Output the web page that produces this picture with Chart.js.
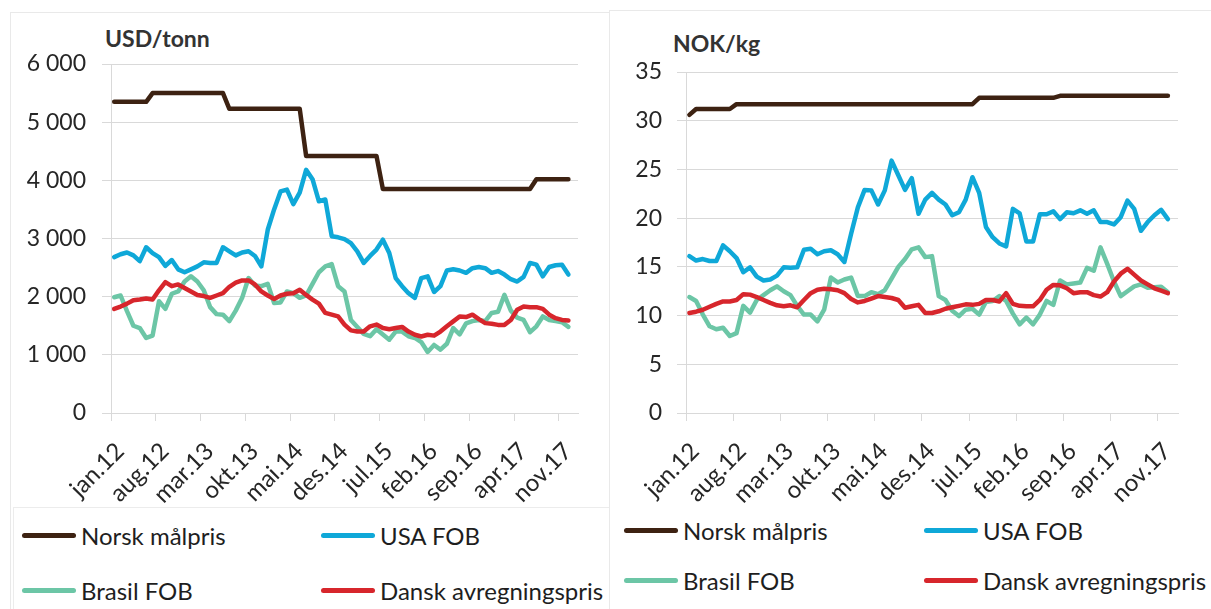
<!DOCTYPE html>
<html>
<head>
<meta charset="utf-8">
<script src="https://cdn.jsdelivr.net/npm/chart.js@4.4.1/dist/chart.umd.min.js"></script>
<style>
    body { margin: 0; background: #fff; font-family: Lato, "Open Sans", sans-serif; color: #1e1e1e; }
    #ramme { position: relative; width: 1211px; height: 609px; overflow: hidden; background: #fff; }
    .panel { position: absolute; border: 1px solid #e9e9e9; box-sizing: border-box; }
    .legendboks { position: absolute; border-top: 1px solid #ececec; border-left: 1px solid #ececec; box-sizing: border-box; }
    .enhet { position: absolute; font-weight: bold; font-size: 23px; line-height: 1; color: #333; }
    canvas { position: absolute; }
    .post { position: absolute; height: 30px; display: flex; align-items: center; font-size: 24px; white-space: nowrap; color: #1e1e1e; }
    .post .strek { display: inline-block; width: 54px; height: 5px; border-radius: 3px; margin-right: 5px; }
</style>
</head>
<body>
<div id="ramme">
    <div class="panel" style="left:10px; top:12px; width:600px; height:610px;"></div>
    <div class="panel" style="left:609px; top:10px; width:610px; height:612px;"></div>
    <div class="legendboks" style="left:13px; top:507px; width:596px; height:110px;"></div>
    <div class="enhet" style="left:105px; top:27px;">USD/tonn</div>
    <div class="enhet" style="left:673px; top:32px;">NOK/kg</div>
    <canvas id="grafusd" width="600" height="476" style="left:0px; top:34px;"></canvas>
    <canvas id="grafnok" width="600" height="470" style="left:600px; top:40px;"></canvas>
    <div id="legendusd"></div>
    <div id="legendnok"></div>
</div>
<script>
const maaneder = [
    "jan.12","feb.12","mar.12","apr.12","mai.12","jun.12","jul.12","aug.12","sep.12","okt.12","nov.12","des.12",
    "jan.13","feb.13","mar.13","apr.13","mai.13","jun.13","jul.13","aug.13","sep.13","okt.13","nov.13","des.13",
    "jan.14","feb.14","mar.14","apr.14","mai.14","jun.14","jul.14","aug.14","sep.14","okt.14","nov.14","des.14",
    "jan.15","feb.15","mar.15","apr.15","mai.15","jun.15","jul.15","aug.15","sep.15","okt.15","nov.15","des.15",
    "jan.16","feb.16","mar.16","apr.16","mai.16","jun.16","jul.16","aug.16","sep.16","okt.16","nov.16","des.16",
    "jan.17","feb.17","mar.17","apr.17","mai.17","jun.17","jul.17","aug.17","sep.17","okt.17","nov.17","des.17"
];
const tickEtiketter = ["jan.12","aug.12","mar.13","okt.13","mai.14","des.14","jul.15","feb.16","sep.16","apr.17","nov.17"];

const navn = ["Norsk målpris", "USA FOB", "Brasil FOB", "Dansk avregningspris"];
const farger = ["#3d2212", "#0fa8d8", "#6cc6a6", "#d7262c"];

// USD/tonn
const norskUsd = [
    5350,5350,5350,5350,5350,5350,5500,5500,5500,5500,5500,5500,
    5500,5500,5500,5500,5500,5500,5230,5230,5230,5230,5230,5230,
    5230,5230,5230,5230,5230,5230,4420,4420,4420,4420,4420,4420,
    4420,4420,4420,4420,4420,4420,3850,3850,3850,3850,3850,3850,
    3850,3850,3850,3850,3850,3850,3850,3850,3850,3850,3850,3850,
    3850,3850,3850,3850,3850,3850,4020,4020,4020,4020,4020,4020
];
const usaUsd = [
    2680,2730,2760,2710,2610,2850,2750,2680,2530,2630,
    2470,2420,2470,2520,2590,2580,2580,2850,2780,2710,
    2760,2780,2700,2520,3150,3500,3810,3840,3590,3790,
    4180,4020,3640,3670,3040,3020,2990,2920,2780,2580,
    2700,2810,2980,2750,2320,2180,2060,1980,2320,2350,
    2080,2180,2450,2470,2450,2410,2490,2510,2490,2410,
    2440,2380,2300,2260,2340,2580,2550,2350,2510,2540,
    2550,2380
];
const brasilUsd = [
    1990,2020,1750,1500,1460,1290,1330,1920,1790,2050,
    2090,2260,2350,2260,2110,1820,1700,1690,1580,1760,
    1980,2320,2190,2180,2220,1890,1900,2090,2060,1980,
    2020,2220,2420,2520,2560,2180,2090,1600,1480,1360,
    1320,1440,1350,1260,1400,1400,1320,1290,1220,1050,
    1170,1090,1190,1460,1350,1540,1580,1600,1580,1720,
    1740,2030,1760,1640,1600,1390,1490,1660,1600,1580,
    1560,1480
];
const danskUsd = [
    1790,1830,1880,1940,1950,1970,1950,2110,2250,2180,
    2210,2150,2090,2030,2010,1980,2020,2060,2170,2240,
    2280,2280,2210,2090,2020,1960,2020,2050,2060,2120,
    2030,1950,1880,1720,1690,1660,1520,1420,1400,1400,
    1490,1520,1460,1440,1460,1480,1400,1345,1315,1345,
    1330,1400,1490,1575,1660,1650,1690,1615,1545,1535,
    1515,1515,1600,1775,1830,1820,1820,1790,1690,1630,
    1600,1590
];

// NOK/kg
const norskNok = [
    30.6,31.2,31.2,31.2,31.2,31.2,31.2,31.7,31.7,31.7,31.7,31.7,
    31.7,31.7,31.7,31.7,31.7,31.7,31.7,31.7,31.7,31.7,31.7,31.7,
    31.7,31.7,31.7,31.7,31.7,31.7,31.7,31.7,31.7,31.7,31.7,31.7,
    31.7,31.7,31.7,31.7,31.7,31.7,31.7,32.35,32.35,32.35,32.35,32.35,
    32.35,32.35,32.35,32.35,32.35,32.35,32.35,32.55,32.55,32.55,32.55,32.55,
    32.55,32.55,32.55,32.55,32.55,32.55,32.55,32.55,32.55,32.55,32.55,32.55
];
const usaNok = [
    16.1,15.65,15.8,15.6,15.6,17.2,16.6,15.9,14.45,14.95,
    14.0,13.6,13.7,14.1,14.95,14.9,14.95,16.75,16.85,16.3,
    16.6,16.7,16.3,15.5,18.4,21.1,22.9,22.85,21.4,22.85,
    25.9,24.4,22.9,24.1,20.45,21.9,22.6,21.9,21.4,20.3,
    20.6,21.9,24.2,22.6,19.1,18.05,17.4,17.1,20.95,20.5,
    17.6,17.6,20.4,20.4,20.7,19.9,20.6,20.5,20.8,20.45,
    20.8,19.6,19.6,19.35,20.1,21.8,20.95,18.7,19.6,20.3,
    20.85,19.9
];
const brasilNok = [
    11.9,11.5,10.1,8.9,8.6,8.75,7.9,8.2,11.0,10.3,
    11.6,12.1,12.6,13.0,12.5,12.1,11.0,10.1,10.1,9.4,
    10.6,13.9,13.4,13.7,13.9,12.0,12.0,12.4,12.2,12.6,
    13.8,15.0,15.8,16.8,17.0,16.0,16.1,12.0,11.6,10.5,
    9.95,10.6,10.7,10.1,11.4,11.5,12.0,11.5,10.2,9.1,
    9.8,9.1,10.1,11.5,11.1,13.6,13.2,13.3,13.4,14.9,
    14.6,17.0,15.3,13.5,12.0,12.5,13.0,13.2,12.85,12.9,
    12.95,12.4
];
const danskNok = [
    10.27,10.4,10.6,10.9,11.2,11.45,11.45,11.6,12.2,12.15,
    11.9,11.6,11.3,11.05,10.95,11.05,10.85,11.6,12.3,12.65,
    12.75,12.7,12.6,12.3,11.7,11.35,11.5,11.75,12.0,11.9,
    11.8,11.6,10.8,10.95,11.1,10.27,10.27,10.44,10.7,10.85,
    11.0,11.15,11.1,11.2,11.6,11.6,11.45,12.3,11.2,11.0,
    10.95,10.95,11.6,12.65,13.15,13.1,12.8,12.3,12.4,12.4,
    12.1,11.95,12.4,13.5,14.3,14.8,14.2,13.6,13.2,12.8,
    12.55,12.3
];

const skrift = { family: "Lato", size: 23 };
const skriftX = { family: "Lato", size: 24 };
const tekstfarge = "#262626";
const gridfarge = "#d9d9d9";

function tusen(v) {
    return String(v).replace(/\B(?=(\d{3})+(?!\d))/g, " ");
}

// punktene står midt i måneden
function punkter(verdier) {
    return verdier.map((v, i) => ({ x: i + 0.5, y: v }));
}

function lagGraf(elementId, serier, yMax, ySteg, yBredde, tickPad, pad) {
    const ctx = document.getElementById(elementId).getContext("2d");
    new Chart(ctx, {
        type: "line",
        data: {
            datasets: serier.map((s, i) => ({
                label: navn[i],
                data: punkter(s),
                borderColor: farger[i],
                borderWidth: 4.5,
                pointRadius: 0,
                tension: 0,
                fill: false,
                borderJoinStyle: "round",
                borderCapStyle: "round",
                order: serier.length - i
            }))
        },
        options: {
            responsive: false,
            animation: false,
            events: [],
            layout: { padding: pad },
            plugins: { legend: { display: false }, tooltip: { enabled: false } },
            scales: {
                x: {
                    type: "linear",
                    min: 0,
                    max: 73,
                    afterBuildTicks: scale => {
                        scale.ticks = tickEtiketter.map(t => ({ value: maaneder.indexOf(t) }));
                    },
                    afterFit: scale => { scale.height = 97; },
                    ticks: {
                        autoSkip: false,
                        minRotation: 45,
                        maxRotation: 45,
                        padding: 16,
                        labelOffset: 9,
                        color: tekstfarge,
                        font: skriftX,
                        callback: v => maaneder[v]
                    },
                    grid: { drawOnChartArea: false, drawTicks: true, tickLength: 8, color: gridfarge },
                    border: { display: true, color: gridfarge }
                },
                y: {
                    min: 0,
                    max: yMax,
                    afterFit: scale => { scale.width = yBredde; },
                    ticks: {
                        stepSize: ySteg,
                        padding: tickPad,
                        color: tekstfarge,
                        font: skrift,
                        callback: v => tusen(v)
                    },
                    grid: { color: gridfarge, tickLength: 9 },
                    border: { display: true, color: gridfarge }
                }
            }
        }
    });
}

function lagLegend(elementId, kolonner, rader) {
    const boks = document.getElementById(elementId);
    navn.forEach((n, i) => {
        const post = document.createElement("div");
        post.className = "post";
        post.style.left = kolonner[i % 2] + "px";
        post.style.top = (rader[Math.floor(i / 2)] - 15) + "px";
        post.innerHTML = `<span class="strek" style="background:${farger[i]}"></span>${n}`;
        boks.appendChild(post);
    });
}

lagGraf("grafusd", [norskUsd, usaUsd, brasilUsd, danskUsd], 6000, 1000, 111, 16,
    { top: 30, right: 22, left: 0, bottom: 0 });
lagGraf("grafnok", [norskNok, usaNok, brasilNok, danskNok], 35, 5, 86, 15,
    { top: 32, right: 22, left: 0, bottom: 0 });

lagLegend("legendusd", [22, 321], [535, 590]);
lagLegend("legendnok", [624, 924], [530, 580]);
</script>
</body>
</html>
